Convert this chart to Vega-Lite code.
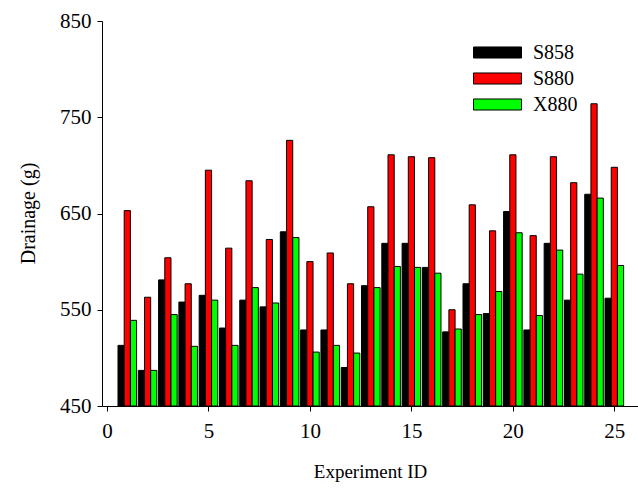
{
  "$schema": "https://vega.github.io/schema/vega-lite/v6.json",
  "autosize": "none",
  "padding": {"left": 102, "top": 21, "right": 0, "bottom": 84},
  "width": 536,
  "height": 385,
  "background": "white",
  "config": {
    "view": {"stroke": null},
    "font": "Liberation Serif",
    "axis": {
      "grid": false,
      "domainColor": "#000000",
      "tickColor": "#000000",
      "labelColor": "#000000",
      "titleColor": "#000000",
      "labelFont": "Liberation Serif",
      "titleFont": "Liberation Serif",
      "labelFontSize": 21,
      "titleFontSize": 19,
      "titleFontWeight": "normal",
      "tickSize": 5
    },
    "legend": {
      "labelFont": "Liberation Serif",
      "labelFontSize": 20,
      "labelColor": "#000000"
    }
  },
  "data": {
    "values": [
      {"id": 1, "series": "S858", "value": 513}, {"id": 1, "series": "S880", "value": 653}, {"id": 1, "series": "X880", "value": 539},
      {"id": 2, "series": "S858", "value": 487}, {"id": 2, "series": "S880", "value": 563}, {"id": 2, "series": "X880", "value": 487},
      {"id": 3, "series": "S858", "value": 581}, {"id": 3, "series": "S880", "value": 604}, {"id": 3, "series": "X880", "value": 545},
      {"id": 4, "series": "S858", "value": 558}, {"id": 4, "series": "S880", "value": 577}, {"id": 4, "series": "X880", "value": 512},
      {"id": 5, "series": "S858", "value": 565}, {"id": 5, "series": "S880", "value": 695}, {"id": 5, "series": "X880", "value": 560},
      {"id": 6, "series": "S858", "value": 531}, {"id": 6, "series": "S880", "value": 614}, {"id": 6, "series": "X880", "value": 513},
      {"id": 7, "series": "S858", "value": 560}, {"id": 7, "series": "S880", "value": 684}, {"id": 7, "series": "X880", "value": 573},
      {"id": 8, "series": "S858", "value": 553}, {"id": 8, "series": "S880", "value": 623}, {"id": 8, "series": "X880", "value": 557},
      {"id": 9, "series": "S858", "value": 631}, {"id": 9, "series": "S880", "value": 726}, {"id": 9, "series": "X880", "value": 625},
      {"id": 10, "series": "S858", "value": 529}, {"id": 10, "series": "S880", "value": 600}, {"id": 10, "series": "X880", "value": 506},
      {"id": 11, "series": "S858", "value": 529}, {"id": 11, "series": "S880", "value": 609}, {"id": 11, "series": "X880", "value": 513},
      {"id": 12, "series": "S858", "value": 490}, {"id": 12, "series": "S880", "value": 577}, {"id": 12, "series": "X880", "value": 505},
      {"id": 13, "series": "S858", "value": 575}, {"id": 13, "series": "S880", "value": 657}, {"id": 13, "series": "X880", "value": 573},
      {"id": 14, "series": "S858", "value": 619}, {"id": 14, "series": "S880", "value": 711}, {"id": 14, "series": "X880", "value": 595},
      {"id": 15, "series": "S858", "value": 619}, {"id": 15, "series": "S880", "value": 709}, {"id": 15, "series": "X880", "value": 594},
      {"id": 16, "series": "S858", "value": 594}, {"id": 16, "series": "S880", "value": 708}, {"id": 16, "series": "X880", "value": 588},
      {"id": 17, "series": "S858", "value": 527}, {"id": 17, "series": "S880", "value": 550}, {"id": 17, "series": "X880", "value": 530},
      {"id": 18, "series": "S858", "value": 577}, {"id": 18, "series": "S880", "value": 659}, {"id": 18, "series": "X880", "value": 545},
      {"id": 19, "series": "S858", "value": 546}, {"id": 19, "series": "S880", "value": 632}, {"id": 19, "series": "X880", "value": 569},
      {"id": 20, "series": "S858", "value": 652}, {"id": 20, "series": "S880", "value": 711}, {"id": 20, "series": "X880", "value": 630},
      {"id": 21, "series": "S858", "value": 529}, {"id": 21, "series": "S880", "value": 627}, {"id": 21, "series": "X880", "value": 544},
      {"id": 22, "series": "S858", "value": 619}, {"id": 22, "series": "S880", "value": 709}, {"id": 22, "series": "X880", "value": 612},
      {"id": 23, "series": "S858", "value": 560}, {"id": 23, "series": "S880", "value": 682}, {"id": 23, "series": "X880", "value": 587},
      {"id": 24, "series": "S858", "value": 670}, {"id": 24, "series": "S880", "value": 764}, {"id": 24, "series": "X880", "value": 666},
      {"id": 25, "series": "S858", "value": 562}, {"id": 25, "series": "S880", "value": 698}, {"id": 25, "series": "X880", "value": 596}
    ]
  },
  "encoding": {
    "x": {
      "field": "id", "type": "quantitative",
      "scale": {"domain": [0, 25.92], "nice": false, "zero": false},
      "axis": {
        "values": [0, 5, 10, 15, 20, 25],
        "title": "Experiment ID",
        "labelFont": "Liberation Serif",
        "labelFontSize": 21,
        "labelPadding": 9,
        "titleFontSize": 19,
        "titleY": 56,
        "titleBaseline": "top"
      }
    },
    "y": {
      "field": "value", "type": "quantitative",
      "scale": {"domain": [450, 850], "nice": false, "zero": false},
      "axis": {
        "values": [450, 550, 650, 750, 850],
        "title": "Drainage (g)",
        "labelFont": "Liberation Serif",
        "labelFontSize": 21,
        "labelPadding": 6,
        "titleFontSize": 20,
        "titleX": -64,
        "titleY": 192,
        "titleAngle": -90,
        "titleBaseline": "bottom"
      }
    },
    "y2": {"datum": 450},
    "color": {
      "field": "series", "type": "nominal",
      "scale": {"domain": ["S858", "S880", "X880"], "range": ["#000000", "#ff0000", "#00ff00"]},
      "legend": {
        "title": null,
        "orient": "none",
        "legendX": 371,
        "legendY": 18.5,
        "padding": 0,
        "symbolType": "M-1,-0.23H1V0.23H-1Z",
        "symbolSize": 2304,
        "symbolStrokeColor": "#000000",
        "symbolStrokeWidth": 1,
        "symbolOpacity": 1,
        "clipHeight": 26,
        "rowPadding": 0,
        "labelOffset": 11,
        "labelFont": "Liberation Serif",
        "labelFontSize": 20,
        "labelColor": "#000000"
      }
    }
  },
  "layer": [
    {
      "transform": [{"filter": "datum.series === 'S858'"}],
      "mark": {"type": "bar", "width": 6.2, "xOffset": -6.2, "stroke": "#000000", "strokeWidth": 1, "opacity": 1}
    },
    {
      "transform": [{"filter": "datum.series === 'S880'"}],
      "mark": {"type": "bar", "width": 6.2, "xOffset": 0, "stroke": "#000000", "strokeWidth": 1, "opacity": 1}
    },
    {
      "transform": [{"filter": "datum.series === 'X880'"}],
      "mark": {"type": "bar", "width": 6.2, "xOffset": 6.2, "stroke": "#000000", "strokeWidth": 1, "opacity": 1}
    }
  ]
}
